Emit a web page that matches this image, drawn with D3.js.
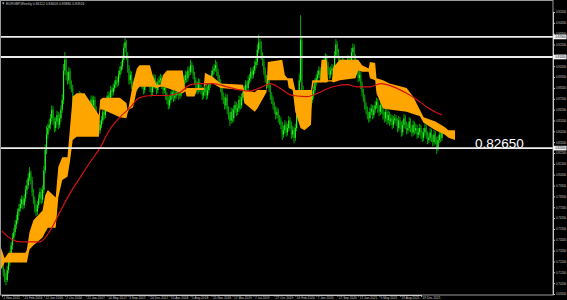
<!DOCTYPE html>
<html>
<head>
<meta charset="utf-8">
<title>EURGBP Weekly</title>
<script src="https://cdn.jsdelivr.net/npm/d3@7"></script>
<style>
  html, body { margin: 0; padding: 0; background: #000; overflow: hidden; }
  svg { display: block; }
  text { font-family: "Liberation Sans", Arial, sans-serif; }
</style>
</head>
<body>
<div id="chart"></div>
<script>
// one label every 16 weekly bars, bar 0 = 1 Nov 2015
var dateLabels = ["1 Nov 2015", "21 Feb 2016", "12 Jun 2016", "2 Oct 2016", "22 Jan 2017",
  "14 May 2017", "3 Sep 2017", "24 Dec 2017", "15 Apr 2018", "5 Aug 2018", "25 Nov 2018",
  "17 Mar 2019", "7 Jul 2019", "27 Oct 2019", "16 Feb 2020", "7 Jun 2020", "27 Sep 2020",
  "17 Jan 2021", "9 May 2021", "29 Aug 2021", "19 Dec 2021"];

// price scale labels on the right
var priceTicks = [0.952, 0.942, 0.932, 0.922, 0.912, 0.902, 0.892, 0.882, 0.872, 0.862,
  0.852, 0.842, 0.832, 0.822, 0.812, 0.802, 0.792, 0.782, 0.772, 0.762, 0.752, 0.742,
  0.732, 0.722, 0.712, 0.702, 0.692];

var title = "EURGBP,Weekly  0.84112 0.84606 0.83880 0.83924";

// weekly bars (open = previous close)
var firstOpen = 0.722;
var closes = [
  0.719,0.712,0.707,0.705,0.714,0.721,0.728,0.737,0.744,0.749,
  0.756,0.760,0.768,0.771,0.775,0.779,0.774,0.780,0.788,0.792,
  0.799,0.804,0.797,0.786,0.779,0.771,0.768,0.774,0.780,0.786,
  0.779,0.788,0.806,0.825,0.839,0.845,0.848,0.854,0.862,0.852,
  0.845,0.851,0.857,0.848,0.854,0.862,0.871,0.898,0.908,0.894,
  0.889,0.897,0.885,0.882,0.871,0.862,0.852,0.857,0.866,0.875,
  0.862,0.852,0.857,0.862,0.866,0.857,0.851,0.862,0.871,0.866,
  0.871,0.862,0.854,0.848,0.843,0.848,0.852,0.860,0.857,0.863,
  0.871,0.875,0.873,0.880,0.878,0.882,0.885,0.889,0.887,0.894,
  0.898,0.902,0.908,0.919,0.924,0.912,0.900,0.889,0.894,0.885,
  0.880,0.887,0.882,0.891,0.894,0.889,0.897,0.885,0.880,0.887,
  0.891,0.898,0.889,0.882,0.878,0.885,0.891,0.885,0.880,0.887,
  0.889,0.891,0.885,0.880,0.882,0.875,0.871,0.866,0.871,0.875,
  0.878,0.873,0.875,0.878,0.880,0.875,0.877,0.882,0.885,0.889,
  0.894,0.891,0.898,0.897,0.903,0.900,0.894,0.889,0.885,0.880,
  0.887,0.882,0.880,0.875,0.878,0.882,0.875,0.880,0.885,0.889,
  0.894,0.898,0.900,0.903,0.897,0.891,0.887,0.882,0.875,0.871,
  0.866,0.873,0.862,0.857,0.852,0.860,0.854,0.862,0.866,0.860,
  0.863,0.871,0.866,0.873,0.878,0.880,0.885,0.882,0.889,0.891,
  0.897,0.894,0.898,0.903,0.906,0.917,0.924,0.922,0.912,0.906,
  0.898,0.891,0.885,0.889,0.882,0.875,0.871,0.866,0.862,0.857,
  0.860,0.854,0.852,0.848,0.839,0.843,0.848,0.841,0.845,0.852,
  0.848,0.839,0.843,0.836,0.845,0.857,0.866,0.889,0.926,0.880,
  0.875,0.871,0.866,0.873,0.862,0.866,0.871,0.875,0.880,0.887,
  0.891,0.894,0.898,0.891,0.897,0.900,0.906,0.910,0.903,0.898,
  0.894,0.898,0.900,0.897,0.912,0.922,0.915,0.908,0.903,0.898,
  0.906,0.900,0.897,0.903,0.908,0.900,0.906,0.915,0.919,0.910,
  0.903,0.898,0.891,0.894,0.885,0.878,0.873,0.866,0.862,0.857,
  0.854,0.860,0.863,0.857,0.862,0.866,0.869,0.863,0.860,0.866,
  0.862,0.857,0.854,0.860,0.852,0.857,0.851,0.854,0.848,0.852,
  0.854,0.851,0.845,0.852,0.848,0.841,0.848,0.854,0.848,0.843,
  0.845,0.851,0.845,0.841,0.848,0.843,0.845,0.839,0.841,0.845,
  0.839,0.836,0.841,0.845,0.839,0.834,0.836,0.841,0.836,0.832,
  0.839,0.834,0.827,0.834,0.839,0.836,0.841];
var highs = [
  0.726,0.722,0.715,0.711,0.718,0.724,0.732,0.740,0.748,0.753,
  0.760,0.765,0.771,0.775,0.780,0.783,0.782,0.784,0.792,0.797,
  0.803,0.809,0.806,0.800,0.789,0.782,0.775,0.778,0.784,0.790,
  0.789,0.792,0.810,0.830,0.847,0.849,0.853,0.858,0.866,0.865,
  0.855,0.855,0.861,0.860,0.858,0.866,0.876,0.904,0.915,0.911,
  0.897,0.901,0.900,0.889,0.885,0.874,0.866,0.861,0.870,0.879,
  0.878,0.865,0.861,0.866,0.870,0.869,0.860,0.866,0.875,0.874,
  0.875,0.874,0.865,0.857,0.851,0.852,0.856,0.864,0.863,0.867,
  0.875,0.879,0.878,0.884,0.883,0.886,0.889,0.893,0.892,0.898,
  0.902,0.906,0.912,0.923,0.929,0.926,0.915,0.903,0.898,0.897,
  0.888,0.891,0.890,0.895,0.898,0.897,0.901,0.900,0.888,0.891,
  0.895,0.902,0.901,0.892,0.885,0.889,0.895,0.894,0.888,0.891,
  0.893,0.895,0.894,0.888,0.886,0.885,0.878,0.874,0.875,0.879,
  0.882,0.881,0.879,0.882,0.884,0.883,0.881,0.886,0.889,0.893,
  0.898,0.897,0.902,0.901,0.908,0.906,0.903,0.897,0.892,0.888,
  0.891,0.890,0.885,0.883,0.882,0.886,0.885,0.884,0.889,0.893,
  0.898,0.902,0.904,0.908,0.906,0.900,0.894,0.890,0.885,0.878,
  0.874,0.877,0.876,0.865,0.860,0.864,0.863,0.866,0.870,0.869,
  0.867,0.875,0.874,0.877,0.882,0.884,0.889,0.888,0.893,0.895,
  0.901,0.900,0.902,0.907,0.910,0.922,0.931,0.927,0.925,0.915,
  0.909,0.901,0.894,0.893,0.892,0.885,0.878,0.874,0.869,0.865,
  0.864,0.863,0.857,0.855,0.851,0.847,0.852,0.851,0.849,0.856,
  0.855,0.851,0.847,0.846,0.849,0.861,0.871,0.895,0.949,0.930,
  0.884,0.878,0.874,0.877,0.876,0.870,0.875,0.879,0.884,0.891,
  0.895,0.898,0.902,0.901,0.901,0.904,0.910,0.914,0.913,0.906,
  0.901,0.902,0.904,0.903,0.916,0.927,0.925,0.918,0.911,0.906,
  0.910,0.909,0.903,0.907,0.912,0.911,0.910,0.919,0.923,0.922,
  0.913,0.906,0.901,0.898,0.897,0.888,0.881,0.876,0.869,0.865,
  0.860,0.864,0.867,0.866,0.866,0.870,0.873,0.872,0.866,0.870,
  0.869,0.865,0.860,0.864,0.863,0.861,0.860,0.858,0.857,0.856,
  0.858,0.857,0.854,0.856,0.855,0.851,0.852,0.858,0.857,0.851,
  0.849,0.855,0.854,0.848,0.852,0.851,0.849,0.848,0.845,0.849,
  0.848,0.842,0.845,0.849,0.848,0.842,0.840,0.845,0.844,0.839,
  0.843,0.842,0.837,0.838,0.843,0.842,0.845];
var lows = [
  0.715,0.708,0.703,0.700,0.703,0.711,0.718,0.725,0.733,0.741,
  0.746,0.752,0.757,0.764,0.768,0.771,0.770,0.771,0.777,0.784,
  0.789,0.796,0.793,0.782,0.775,0.767,0.764,0.765,0.771,0.776,
  0.775,0.776,0.785,0.803,0.821,0.835,0.842,0.844,0.851,0.848,
  0.841,0.842,0.848,0.844,0.845,0.851,0.859,0.867,0.894,0.889,
  0.885,0.886,0.881,0.878,0.867,0.858,0.848,0.849,0.854,0.863,
  0.858,0.848,0.849,0.854,0.859,0.853,0.847,0.848,0.859,0.862,
  0.863,0.858,0.850,0.844,0.839,0.840,0.845,0.849,0.853,0.854,
  0.860,0.868,0.869,0.870,0.874,0.875,0.879,0.882,0.883,0.884,
  0.891,0.895,0.899,0.905,0.915,0.908,0.896,0.885,0.886,0.881,
  0.876,0.877,0.878,0.879,0.887,0.885,0.886,0.881,0.876,0.877,
  0.884,0.888,0.885,0.878,0.874,0.875,0.882,0.881,0.876,0.877,
  0.884,0.886,0.881,0.876,0.877,0.871,0.867,0.862,0.863,0.868,
  0.872,0.869,0.870,0.872,0.875,0.871,0.872,0.874,0.879,0.882,
  0.886,0.887,0.888,0.893,0.894,0.896,0.890,0.885,0.881,0.876,
  0.877,0.878,0.876,0.871,0.872,0.875,0.871,0.872,0.877,0.882,
  0.886,0.891,0.895,0.897,0.893,0.887,0.883,0.878,0.871,0.867,
  0.862,0.863,0.858,0.853,0.847,0.849,0.850,0.851,0.859,0.856,
  0.857,0.860,0.862,0.863,0.870,0.875,0.877,0.878,0.879,0.886,
  0.888,0.890,0.891,0.895,0.900,0.903,0.914,0.918,0.908,0.902,
  0.894,0.887,0.881,0.882,0.878,0.871,0.867,0.862,0.858,0.853,
  0.854,0.850,0.848,0.844,0.834,0.836,0.840,0.837,0.838,0.842,
  0.844,0.835,0.836,0.831,0.833,0.842,0.854,0.863,0.887,0.875,
  0.871,0.867,0.862,0.863,0.858,0.859,0.863,0.868,0.872,0.877,
  0.884,0.888,0.891,0.887,0.888,0.894,0.897,0.903,0.899,0.894,
  0.890,0.891,0.895,0.893,0.894,0.909,0.911,0.904,0.899,0.894,
  0.895,0.896,0.893,0.894,0.900,0.896,0.897,0.903,0.912,0.906,
  0.899,0.894,0.887,0.888,0.881,0.874,0.869,0.862,0.858,0.853,
  0.850,0.851,0.857,0.853,0.854,0.859,0.863,0.859,0.856,0.857,
  0.858,0.853,0.850,0.851,0.848,0.849,0.847,0.848,0.844,0.845,
  0.849,0.847,0.841,0.842,0.844,0.837,0.838,0.845,0.844,0.839,
  0.840,0.842,0.841,0.837,0.838,0.839,0.840,0.835,0.836,0.838,
  0.835,0.832,0.833,0.838,0.835,0.830,0.831,0.833,0.832,0.828,
  0.829,0.830,0.821,0.824,0.831,0.832,0.833];

var maBars   = [0, 8, 14, 29, 37, 44, 52, 60, 67, 75, 82, 90, 98, 105, 115, 126, 136, 144, 151, 161,
  172, 182, 189, 197, 205, 212, 222, 233, 241, 248, 256, 264, 271, 281, 289, 299, 309, 317, 325, 336];
var maValues = [0.750, 0.742, 0.740, 0.740, 0.751, 0.767, 0.785, 0.800, 0.813, 0.827, 0.843, 0.855,
  0.864, 0.873, 0.875, 0.875, 0.878, 0.885, 0.886, 0.886, 0.883, 0.880, 0.879, 0.882, 0.886, 0.882,
  0.875, 0.874, 0.877, 0.881, 0.884, 0.885, 0.883, 0.883, 0.886, 0.883, 0.877, 0.871, 0.864, 0.857];

// orange cloud outline (upper and lower edge at these bars)
var cloudBars = [-2, 2, 5, 18, 19, 21, 24, 31, 33, 35, 41, 43, 46, 50, 52, 54, 57, 63, 69, 74,
  75, 77, 90, 95, 96, 97, 100, 103, 105, 113, 115, 118, 121, 123, 126, 138, 140, 141, 147, 149,
  154, 155, 161, 167, 184, 185, 193, 195, 202, 203, 214, 216, 218, 219, 222, 224, 228, 231, 236, 237,
  238, 243, 244, 248, 249, 252, 253, 258, 270, 272, 275, 280, 281, 285, 286, 291, 296, 309, 314, 319,
  322, 331, 338, 341, 346];
var cloudTop = [0.739, 0.725, 0.730, 0.730, 0.733, 0.749, 0.760, 0.769, 0.783, 0.788, 0.781, 0.809,
  0.818, 0.818, 0.846, 0.874, 0.877, 0.877, 0.866, 0.857, 0.871, 0.873, 0.873, 0.868, 0.861, 0.866,
  0.886, 0.900, 0.903, 0.903, 0.894, 0.885, 0.885, 0.894, 0.898, 0.898, 0.880, 0.882, 0.882, 0.882,
  0.882, 0.896, 0.892, 0.886, 0.885, 0.880, 0.878, 0.880, 0.880, 0.906, 0.908, 0.894, 0.891, 0.891,
  0.891, 0.880, 0.880, 0.880, 0.880, 0.889, 0.889, 0.889, 0.908, 0.908, 0.889, 0.889, 0.901, 0.908,
  0.908, 0.908, 0.903, 0.900, 0.906, 0.905, 0.891, 0.889, 0.886, 0.882, 0.874, 0.862, 0.855, 0.851,
  0.846, 0.843, 0.843];
var cloudBottom = [0.712, 0.721, 0.721, 0.721, 0.721, 0.733, 0.737, 0.744, 0.749, 0.753, 0.753, 0.781,
  0.797, 0.800, 0.815, 0.834, 0.837, 0.837, 0.837, 0.837, 0.862, 0.862, 0.855, 0.854, 0.859, 0.862,
  0.864, 0.880, 0.883, 0.883, 0.883, 0.882, 0.883, 0.883, 0.882, 0.877, 0.879, 0.874, 0.874, 0.880,
  0.880, 0.885, 0.886, 0.882, 0.880, 0.868, 0.860, 0.863, 0.878, 0.889, 0.889, 0.889, 0.889, 0.882,
  0.880, 0.860, 0.845, 0.843, 0.848, 0.880, 0.887, 0.887, 0.887, 0.887, 0.888, 0.888, 0.887, 0.889,
  0.891, 0.898, 0.897, 0.897, 0.891, 0.889, 0.877, 0.863, 0.862, 0.860, 0.858, 0.856, 0.850, 0.843,
  0.839, 0.836, 0.834];

// horizontal lines drawn by hand on the chart
var levels = [0.9290, 0.9105, 0.8265];
var bigLevel = 0.8265;


var width = 567, height = 300;
// plot frame: price scale on the right, dates underneath
var plotRight = 553, plotBottom = 295;

var svg = d3.select("#chart")
  .append("svg")
  .attr("width", width)
  .attr("height", height)
  .style("background", "#000");

// bar index -> x, 16 bars between two date labels
var x = d3.scaleLinear().domain([0, 320]).range([2, 421]);
var y = d3.scaleLinear().domain([0.692, 0.952]).range([294, 12]);

svg.append("clipPath").attr("id", "plotclip")
  .append("rect")
  .attr("x", 1).attr("y", 1)
  .attr("width", plotRight - 1).attr("height", plotBottom - 1);

var plot = svg.append("g").attr("clip-path", "url(#plotclip)");

// build the bars, the open is the close of the week before
var bars = closes.map(function(c, i) {
  return {i: i, open: i === 0 ? firstOpen : closes[i - 1], close: c, high: highs[i], low: lows[i]};
});

var candle = plot.append("g").selectAll("g")
  .data(bars)
  .enter().append("g");

candle.append("line")
  .attr("x1", function(d) { return x(d.i); })
  .attr("x2", function(d) { return x(d.i); })
  .attr("y1", function(d) { return y(d.high); })
  .attr("y2", function(d) { return y(d.low); })
  .attr("stroke", "#00a800")
  .attr("stroke-width", 1);

candle.append("rect")
  .attr("x", function(d) { return x(d.i) - 0.6; })
  .attr("width", 1.2)
  .attr("y", function(d) { return y(Math.max(d.open, d.close)); })
  .attr("height", function(d) { return Math.max(0.8, Math.abs(y(d.open) - y(d.close))); })
  .attr("fill", function(d) { return d.close >= d.open ? "#2cf02c" : "#128c12"; });

// cloud goes over the bars
var cloud = cloudBars.map(function(b, i) { return {bar: b, hi: cloudTop[i], lo: cloudBottom[i]}; });
plot.append("path")
  .datum(cloud)
  .attr("fill", "#ffa500")
  .attr("d", d3.area()
    .x(function(d) { return x(d.bar); })
    .y0(function(d) { return y(d.lo); })
    .y1(function(d) { return y(d.hi); }));

// moving average
var ma = maBars.map(function(b, i) { return {bar: b, v: maValues[i]}; });
plot.append("path")
  .datum(ma)
  .attr("fill", "none")
  .attr("stroke", "#d41414")
  .attr("stroke-width", 1.2)
  .attr("d", d3.line()
    .curve(d3.curveMonotoneX)
    .x(function(d) { return x(d.bar); })
    .y(function(d) { return y(d.v); }));

// white level lines
plot.selectAll(".level")
  .data(levels)
  .enter().append("line")
  .attr("class", "level")
  .attr("x1", 0).attr("x2", plotRight)
  .attr("y1", function(d) { return y(d); })
  .attr("y2", function(d) { return y(d); })
  .attr("stroke", "#ececec")
  .attr("stroke-width", 1.8);

// frame
svg.append("rect")
  .attr("x", 0.5).attr("y", 0.5)
  .attr("width", plotRight - 0.5).attr("height", plotBottom - 0.5)
  .attr("fill", "none")
  .attr("stroke", "#9a9a9a")
  .attr("stroke-width", 1);

// price axis
var yAxis = svg.append("g")
  .attr("transform", "translate(" + plotRight + ",0)")
  .call(d3.axisRight(y)
    .tickValues(priceTicks)
    .tickSize(2)
    .tickPadding(1)
    .tickFormat(d3.format(".5f")));
yAxis.select(".domain").attr("stroke", "#c8c8c8");
yAxis.selectAll(".tick line").attr("stroke", "#c8c8c8");
yAxis.selectAll("text").attr("fill", "#c8c8c8").style("font-size", "2.8px");

// date axis
var xAxis = svg.append("g")
  .attr("transform", "translate(0," + plotBottom + ")")
  .call(d3.axisBottom(x)
    .tickValues(d3.range(0, 321, 16))
    .tickSize(1.5)
    .tickPadding(0)
    .tickFormat(function(d, i) { return dateLabels[i]; }));
xAxis.select(".domain").attr("stroke", "#c8c8c8");
xAxis.selectAll(".tick line").attr("stroke", "#c8c8c8");
xAxis.selectAll("text")
  .attr("fill", "#c8c8c8")
  .attr("text-anchor", "start")
  .attr("dx", 1)
  .style("font-size", "3.2px");

// label boxes for the levels on the price axis
var box = svg.selectAll(".levelbox")
  .data(levels)
  .enter().append("g")
  .attr("class", "levelbox")
  .attr("transform", function(d) { return "translate(" + plotRight + "," + y(d) + ")"; });
box.append("rect")
  .attr("x", 0).attr("y", -2.3)
  .attr("width", 13.5).attr("height", 4.6)
  .attr("fill", "#f2f2f2");
box.append("text")
  .attr("x", 2.5).attr("y", 1)
  .attr("fill", "#000")
  .style("font-size", "2.8px")
  .text(function(d) { return d3.format(".5f")(d); });

// big price text above the lowest line
svg.append("text")
  .attr("x", 475)
  .attr("y", y(bigLevel) - 0.5)
  .attr("fill", "#ffffff")
  .style("font-size", "13.5px")
  .text(d3.format(".5f")(bigLevel));

// chart title top left
svg.append("path")
  .attr("d", "M2,2.5 L4.5,2.5 L3.25,4.5 Z")
  .attr("fill", "#c8c8c8");
svg.append("text")
  .attr("x", 6).attr("y", 5)
  .attr("fill", "#c8c8c8")
  .style("font-size", "3.4px")
  .text(title);
</script>
</body>
</html>
